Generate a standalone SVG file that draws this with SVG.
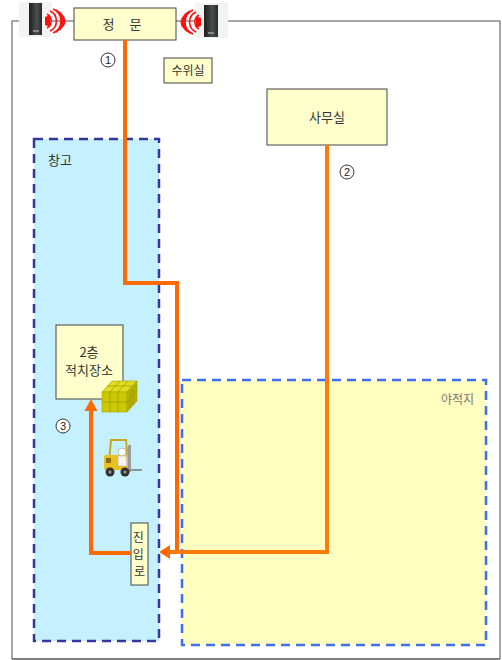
<svg xmlns="http://www.w3.org/2000/svg" width="502" height="660" viewBox="0 0 502 660">
  <defs>
    <style>
      .lbl { font-family: "Noto Sans CJK KR", "Noto Sans", sans-serif; fill: #333; }
      .box { fill: #FFFFCC; stroke: #444; stroke-width: 1; }
      .route { fill: none; stroke: #FF6A00; stroke-width: 4; stroke-linejoin: miter; }
      .wave { fill: none; stroke: #FF1010; stroke-width: 1.6; }
      .num circle { fill: #fff; stroke: #333; stroke-width: 1; }
      .num text { font-family: "Liberation Sans", sans-serif; font-size: 11px; fill: #222; text-anchor: middle; }
    </style>
    <linearGradient id="spk" x1="0" y1="0" x2="1" y2="0">
      <stop offset="0" stop-color="#1e1e1e"/>
      <stop offset="0.6" stop-color="#4a4f50"/>
      <stop offset="1" stop-color="#2a2a2a"/>
    </linearGradient>
  </defs>

  <!-- site boundary -->
  <g id="boundary" fill="none">
    <path d="M12,659 L12,21 L500,21 L500,659" stroke="#8a8a8a" stroke-width="1.5"/>
    <line x1="12" y1="659" x2="500" y2="659" stroke="#555" stroke-width="1.5"/>
  </g>

  <!-- areas -->
  <g id="warehouse">
    <rect x="34" y="139" width="125" height="502" fill="#C4F0FF" stroke="#35359C" stroke-width="2.5" stroke-dasharray="9,6"/>
    <text class="lbl" x="48" y="165" font-size="13">창고</text>
  </g>
  <g id="yard">
    <rect x="182" y="380" width="304" height="265" fill="#FFFFC0" stroke="#3F6FEF" stroke-width="2.5" stroke-dasharray="9,6"/>
    <text class="lbl" x="474" y="404" font-size="12" text-anchor="end" style="fill:#777">야적지</text>
  </g>

  <!-- gate sensors -->
  <g id="sensor-left">
    <rect x="19" y="2" width="33" height="35" fill="#F3F3F3"/>
    <rect x="29" y="3" width="13" height="32" fill="url(#spk)"/>
    <rect x="33" y="30" width="6" height="2" fill="#888"/>
    <path class="wave" d="M47,14 A8,8 0 0 1 47,28 M50,11 A11,11 0 0 1 50,31 M53,9 A13,13 0 0 1 53,33 M56,10 A13,13 0 0 1 56,32 M59,12 A11,11 0 0 1 59,30 M62,15 A8,8 0 0 1 62,27"/>
    <path d="M45,17 L50,15 L50,27 L45,25 Z" fill="#FF1010"/>
  </g>
  <g id="sensor-right">
    <rect x="195" y="3" width="33" height="35" fill="#F3F3F3"/>
    <rect x="204" y="5" width="14" height="32" fill="url(#spk)"/>
    <rect x="208" y="32" width="6" height="2" fill="#888"/>
    <path class="wave" d="M199,15 A8,8 0 0 0 199,29 M196,12 A11,11 0 0 0 196,32 M193,10 A13,13 0 0 0 193,34 M190,11 A13,13 0 0 0 190,33 M187,13 A11,11 0 0 0 187,31 M184,16 A8,8 0 0 0 184,28"/>
    <path d="M201,18 L196,16 L196,28 L201,26 Z" fill="#FF1010"/>
  </g>

  <!-- buildings -->
  <g id="gate">
    <rect class="box" x="74" y="8" width="102" height="32"/>
    <text class="lbl" x="125" y="29" font-size="13" text-anchor="middle" letter-spacing="6">정 문</text>
  </g>
  <g id="guardroom">
    <rect class="box" x="164" y="58" width="48" height="25" stroke-width="0.8"/>
    <text class="lbl" x="188" y="75" font-size="12" text-anchor="middle">수위실</text>
  </g>
  <g id="office">
    <rect class="box" x="267" y="89" width="120" height="56"/>
    <text class="lbl" x="327" y="122" font-size="13" text-anchor="middle">사무실</text>
  </g>
  <g id="storage">
    <rect class="box" x="56" y="325" width="67" height="74"/>
    <text class="lbl" x="89" y="357" font-size="13" text-anchor="middle">2층</text>
    <text class="lbl" x="89" y="375" font-size="13" text-anchor="middle">적치장소</text>
  </g>
  <g id="entrance">
    <rect class="box" x="131" y="523" width="17" height="62"/>
    <text class="lbl" font-size="12" text-anchor="middle">
      <tspan x="139.5" y="542">진</tspan>
      <tspan x="139.5" y="559">입</tspan>
      <tspan x="139.5" y="576">로</tspan>
    </text>
  </g>

  <!-- stacked boxes -->
  <g id="boxes">
    <path d="M102,392 L112,381 L137,381 L127,392 Z" fill="#E0DC20" stroke="#A8A400" stroke-width="0.6"/>
    <path d="M102,392 L127,392 L127,412 L102,412 Z" fill="#CCC800" stroke="#A8A400" stroke-width="0.6"/>
    <path d="M127,392 L137,381 L137,401 L127,412 Z" fill="#B4B000" stroke="#A8A400" stroke-width="0.6"/>
    <path d="M102,402 L127,402 L137,391 M110,392 L110,412 M118,392 L118,412 M110,392 L120,381 M118,392 L128,381 M107,386 L132,386 M130,394 L130,408 M133,390 L133,405" fill="none" stroke="#9C9800" stroke-width="0.7"/>
  </g>

  <!-- forklift -->
  <g id="forklift">
    <path d="M111,440 L126,440 L128,462 L109,462 Z" fill="none" stroke="#C8A820" stroke-width="2"/>
    <rect x="104" y="455" width="26" height="15" rx="2" fill="#E8C020"/>
    <rect x="106" y="458" width="5" height="5" fill="#8a7010"/>
    <path d="M128,445 L131,445 L131,472 L128,472 Z" fill="#9a9a9a"/>
    <path d="M131,470 L142,470" stroke="#777" stroke-width="1.5"/>
    <circle cx="122" cy="452" r="4" fill="#fff" stroke="#bbb"/>
    <path d="M118,456 L126,456 L127,466 L118,466 Z" fill="#f4f4f4" stroke="#bbb" stroke-width="0.6"/>
    <circle cx="110" cy="472" r="4.5" fill="#333"/>
    <circle cx="125" cy="472" r="4.5" fill="#333"/>
    <circle cx="110" cy="472" r="1.5" fill="#999"/>
    <circle cx="125" cy="472" r="1.5" fill="#999"/>
  </g>

  <!-- step numbers -->
  <g id="step-1" class="num"><circle cx="108" cy="60" r="7"/><text x="108" y="64">1</text></g>
  <g id="step-2" class="num"><circle cx="347" cy="172" r="7"/><text x="347" y="176">2</text></g>
  <g id="step-3" class="num"><circle cx="63" cy="426" r="7"/><text x="63" y="430">3</text></g>

  <!-- routes -->
  <g id="connectors">
    <path class="route" d="M125,40 L125,283 L177,283 L177,552"/>
    <path class="route" d="M327,145 L327,552 L168,552" style="stroke:#FF7A08"/>
    <path d="M159,552 L170,545 L170,559 Z" fill="#FF6A00"/>
    <path class="route" d="M131,553 L91,553 L91,408"/>
    <path d="M91,399 L84.5,411 L97.5,411 Z" fill="#FF6A00"/>
  </g>
</svg>
